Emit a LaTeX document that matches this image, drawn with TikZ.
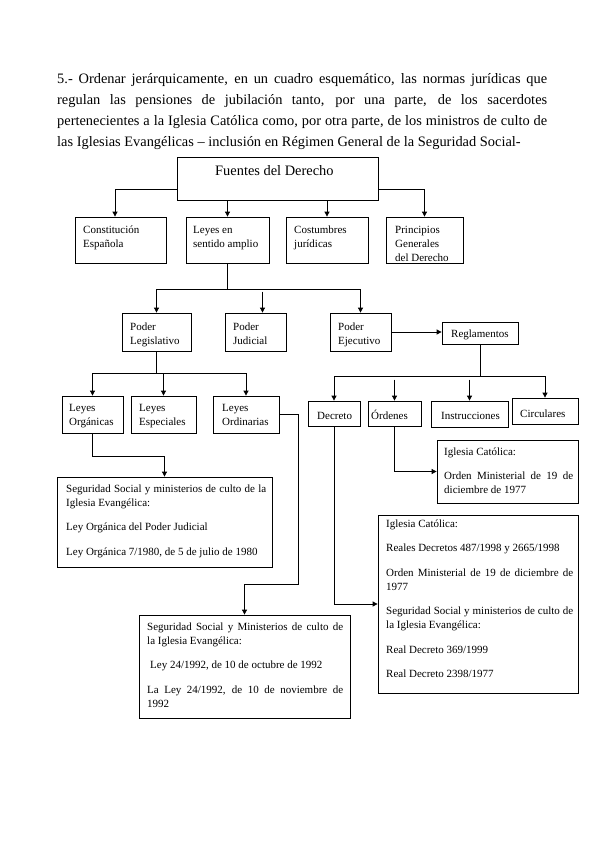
\documentclass[tikz,border=0pt]{standalone}
\usepackage{fontspec}
\setmainfont{Liberation Serif}
\usetikzlibrary{arrows.meta,fit}
\hyphenpenalty=10000
\exhyphenpenalty=10000
\tolerance=9999
\newcommand\st{\rule{0pt}{10pt}}
\newcommand\stt{\rule{0pt}{11pt}}
\tikzset{
  bx/.style={draw, line width=0.8pt, inner sep=0pt},
  arr/.style={line width=0.8pt, -{Triangle[length=5pt,width=5pt]}},
  ln/.style={line width=0.8pt},
  lbl/.style={anchor=north west, inner sep=0pt, align=left, font=\fontsize{11}{14}\selectfont},
  txtblock/.style={anchor=north west, inner sep=0pt, align=justify,
     font=\fontsize{11}{14}\selectfont,
     execute at begin node={\setlength{\parskip}{10.5pt}\setlength{\parindent}{0pt}\spaceskip=2.75pt plus 3pt\relax}},
}
\begin{document}
\begin{tikzpicture}[x=1pt,y=-1pt]
\path[fill=white] (0,0) rectangle (599,848);
\useasboundingbox (0,0) rectangle (599,848);

% title
\node[anchor=north west, inner sep=0pt, text width=490pt, align=justify,
      font=\fontsize{14.4}{21}\selectfont] (title) at (57,72)
 {\stt 5.- Ordenar jerárquicamente, en un cuadro esquemático, las normas jurídicas que\linebreak
  regulan las pensiones de jubilación tanto, por una parte, de los sacerdotes\linebreak
  pertenecientes a la Iglesia Católica como, por otra parte, de los ministros de culto de\linebreak
  las Iglesias Evangélicas – inclusión en Régimen General de la Seguridad Social-};

% boxes
\node[bx, fit={(177,157) (378,200)}] (F) {};
\node[anchor=base west, inner sep=0pt, font=\fontsize{14.4}{16}\selectfont] (Ft) at (215,175) {Fuentes del Derecho};

\node[bx, fit={(75,217) (166,263)}] (C) {};
\node[lbl] (Ct) at (83,223) {\st Constitución\\Española};
\node[bx, fit={(186,217) (269,263)}] (L) {};
\node[lbl] (Lt) at (193,223) {\st Leyes en\\sentido amplio};
\node[bx, fit={(286,217) (368,263)}] (Co) {};
\node[lbl] (Cot) at (294,223) {\st Costumbres\\jurídicas};
\node[bx, fit={(386,217) (463,263)}] (P) {};
\node[lbl] (Pt) at (395,223) {\st Principios\\Generales\\del Derecho};

\node[bx, fit={(122,313) (191,351)}] (PL) {};
\node[lbl] (PLt) at (130,320) {\st Poder\\Legislativo};
\node[bx, fit={(225,313) (286,351)}] (PJ) {};
\node[lbl] (PJt) at (233,320) {\st Poder\\Judicial};
\node[bx, fit={(330,313) (391,351)}] (PE) {};
\node[lbl] (PEt) at (338,320) {\st Poder\\Ejecutivo};
\node[bx, fit={(442,322) (518,344)}] (R) {};
\node[lbl] (Rt) at (451,327) {\st Reglamentos};

\node[bx, fit={(62,396) (123,433)}] (LO) {};
\node[lbl] (LOt) at (69,401) {\st Leyes\\Orgánicas};
\node[bx, fit={(131,396) (196,433)}] (LE) {};
\node[lbl] (LEt) at (139,401) {\st Leyes\\Especiales};
\node[bx, fit={(213,396) (279,433)}] (LOr) {};
\node[lbl] (LOrt) at (222,401) {\st Leyes\\Ordinarias};

\node[bx, fit={(308,401) (360,426)}] (D) {};
\node[lbl] (Dt) at (317,409) {\st Decreto};
\node[bx, fit={(368,401) (421,426)}] (O) {};
\node[lbl] (Ot) at (371,409) {\st Órdenes};
\node[bx, fit={(431,401) (508,427)}] (I) {};
\node[lbl] (It) at (441,409) {\st Instrucciones};
\node[bx, fit={(512,398) (578,424)}] (Ci) {};
\node[lbl] (Cit) at (520,407) {\st Circulares};

\node[bx, fit={(437,440) (578,503)}] (IC1) {};
\node[txtblock, text width=129pt] (IC1t) at (444,445)
 {\st Iglesia Católica:\par Orden Ministerial de 19 de diciembre de 1977};

\node[bx, fit={(57,477) (272,567)}] (B1) {};
\node[txtblock, text width=200pt] (B1t) at (66,482)
 {\st Seguridad Social y ministerios de culto de la Iglesia Evangélica:\par
  Ley Orgánica del Poder Judicial\par
  Ley Orgánica 7/1980, de 5 de julio de 1980};

\node[bx, fit={(378,515) (578,693)}] (B2) {};
\node[txtblock, text width=187pt] (B2t) at (386,517)
 {\st Iglesia Católica:\par
  Reales Decretos 487/1998 y 2665/1998\par
  Orden Ministerial de 19 de diciembre de 1977\par
  Seguridad Social y ministerios de culto de la Iglesia Evangélica:\par
  Real Decreto 369/1999\par
  Real Decreto 2398/1977};

\node[bx, fit={(139,615) (350,718)}] (B3) {};
\node[txtblock, text width=196pt] (B3t) at (147,620)
 {\st Seguridad Social y Ministerios de culto de la Iglesia Evangélica:\par
  \hspace*{3pt}Ley 24/1992, de 10 de octubre de 1992\par
  La Ley 24/1992, de 10 de noviembre de 1992};

% connectors
\draw[arr] ([yshift=-10.5pt]F.west) -| ([xshift=-5.5pt]C.north);
\draw[arr] (L.north |- F.south) -- (L.north);
\draw[arr] (Co.north |- F.south) -- (Co.north);
\draw[arr] ([yshift=-10.5pt]F.east) -| (P.north);

\draw[ln] (L.south) -- ++(0,26) coordinate (j1);
\draw[arr] (j1) -| (PL.north);
\draw[arr] (j1) -| (PE.north);
\draw[arr] ([shift={(7,-21)}]PJ.north) -- ([xshift=7pt]PJ.north);
\draw[arr] (PE.east) -- (R.west |- PE.east);

\draw[ln] (PL.south) -- ++(0,22) coordinate (j2);
\draw[arr] (j2) -| (LO.north);
\draw[arr] (j2) -| (LOr.north);
\draw[arr] (LE.north |- j2) -- (LE.north);
\draw[arr] (LO.south) -- ++(0,23) -| (B1.north);
\draw[arr] (LOr.east) -| ([shift={(53.5,-30)}]B3.north) -| (B3.north);

\draw[ln] (R.south) -- ++(0,32) coordinate (j3);
\draw[arr] (j3) -| (D.north);
\draw[arr] (j3) -| (Ci.north);
\draw[arr] ([shift={(0,-21)}]O.north) -- (O.north);
\draw[arr] ([shift={(0,-21)}]I.north) -- (I.north);
\draw[arr] (O.south) |- (IC1.west);
\draw[arr] (D.south) |- (B2.west);
\end{tikzpicture}
\end{document}
